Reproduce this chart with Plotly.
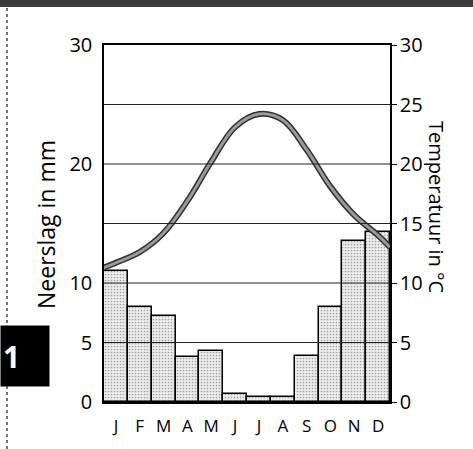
import plotly.graph_objects as go

months = ["J", "F", "M", "A", "M", "J", "J", "A", "S", "O", "N", "D"]
precip_mm = [11.0, 8.0, 7.2, 3.8, 4.3, 0.7, 0.4, 0.4, 3.9, 8.0, 13.5, 14.3]
temp_c = [11.7, 12.6, 14.2, 16.9, 20.2, 23.1, 24.2, 23.7, 21.2, 18.1, 15.7, 14.0]
temp_year_start = 11.3   # value at the very start of January
temp_year_end = 13.0     # value at the very end of December
left_ticks = [0, 5, 10, 20, 30]
right_ticks = [0, 5, 10, 15, 20, 25, 30]
grid_levels = [5, 10, 15, 20, 25]

W, H = 473, 449
ML, MR, MT, MB = 104, 83, 45, 47
PW, PH = W - ML - MR, H - MT - MB


def px(x):
    return (x - ML) / PW


def py(y):
    return (H - MB - y) / PH


xi = list(range(len(months)))
FONT = "Open Sans"

fig = go.Figure()
fig.add_trace(go.Bar(
    x=xi, y=precip_mm, width=1.0,
    marker=dict(color="#e6e6e6",
                line=dict(color="black", width=1.5),
                pattern=dict(shape=".", size=3, solidity=0.25,
                             fgcolor="#555555", bgcolor="#ededed")),
    showlegend=False, hoverinfo="skip",
))

tx = [xi[0] - 0.5] + xi + [xi[-1] + 0.5]
ty = [temp_year_start] + temp_c + [temp_year_end]
fig.add_trace(go.Scatter(x=tx, y=ty, yaxis="y2", mode="lines",
                         line=dict(color="#2e2e2e", width=6, shape="spline"),
                         showlegend=False, hoverinfo="skip"))
fig.add_trace(go.Scatter(x=tx, y=ty, yaxis="y2", mode="lines",
                         line=dict(color="#9a9a9a", width=3, shape="spline"),
                         showlegend=False, hoverinfo="skip"))

shapes = []
for g in grid_levels:
    shapes.append(dict(type="line", xref="paper", yref="y", x0=0, x1=1, y0=g, y1=g,
                       line=dict(color="#222", width=1), layer="above"))
# scan decorations: top band and left dotted rule
shapes.append(dict(type="rect", xref="paper", yref="paper", x0=px(0), x1=px(W),
                   y0=py(0), y1=py(7), fillcolor="#3c3c3c", line=dict(width=0)))
shapes.append(dict(type="line", xref="paper", yref="paper", x0=px(7), x1=px(7),
                   y0=py(8), y1=py(H), line=dict(color="#444", width=1.5, dash="dot")))

annotations = [
    dict(text="Neerslag in mm", xref="paper", yref="paper", x=px(46), y=py(225),
         xanchor="center", yanchor="middle",
         textangle=-90, showarrow=False, font=dict(family=FONT, size=23, color="black")),
    dict(text="Temperatuur in °C", xref="paper", yref="paper", x=px(437), y=py(207),
         xanchor="center", yanchor="middle",
         textangle=90, showarrow=False, font=dict(family=FONT, size=20, color="black")),
    dict(text="<b>1</b>", xref="paper", yref="paper", x=px(0), y=py(325),
         xanchor="left", yanchor="top", showarrow=False, width=44, height=56,
         align="left", valign="middle", bgcolor="black", borderpad=2,
         font=dict(family=FONT, size=30, color="white")),
]

fig.update_layout(
    width=W, height=H,
    margin=dict(l=ML, r=MR, t=MT, b=MB),
    paper_bgcolor="white", plot_bgcolor="white",
    bargap=0,
    font=dict(family=FONT, size=20, color="black"),
    xaxis=dict(range=[-0.5, len(months) - 0.5], tickvals=xi, ticktext=months,
               showgrid=False, zeroline=False, showline=True, linecolor="black",
               linewidth=1.5, mirror=True, ticks="", tickfont=dict(size=17),
               ticklabelstandoff=8),
    yaxis=dict(range=[0, 30], tickvals=left_ticks, showgrid=False, zeroline=False,
               showline=True, linecolor="black", linewidth=1.5, ticks="",
               tickfont=dict(size=20), ticklabelstandoff=6),
    yaxis2=dict(range=[0, 30], tickvals=right_ticks, overlaying="y", side="right",
                showgrid=False, zeroline=False, showline=True, linecolor="black",
                linewidth=1.5, ticks="outside", ticklen=5, tickcolor="black",
                tickfont=dict(size=20), ticklabelstandoff=-1),
    shapes=shapes, annotations=annotations,
)

fig.write_html("out.html", config={"displayModeBar": False},
               post_script="document.body.style.margin='0';")
